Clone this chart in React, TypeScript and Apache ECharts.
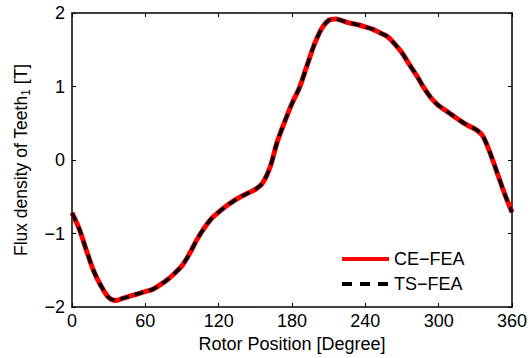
import React, { useEffect, useRef } from "react";
import * as echarts from "echarts";

const rotorDeg = [
  0, 6, 12, 18, 24, 30, 36, 42, 48, 54, 60, 66, 72, 78, 84, 90, 96, 102, 108, 114,
  120, 126, 132, 138, 144, 150, 156, 162, 168, 174, 180, 186, 192, 198, 204, 210,
  216, 222, 228, 234, 240, 246, 252, 258, 264, 270, 276, 282, 288, 294, 300, 306,
  312, 318, 324, 330, 336, 342, 348, 354, 360,
];
const ceFea = [
  -0.72, -0.94, -1.24, -1.52, -1.72, -1.87, -1.91, -1.88, -1.85, -1.82, -1.79, -1.76,
  -1.7, -1.63, -1.54, -1.44, -1.28, -1.09, -0.93, -0.8, -0.71, -0.63, -0.56, -0.5,
  -0.45, -0.4, -0.31, -0.1, 0.25, 0.52, 0.77, 0.98, 1.27, 1.56, 1.78, 1.9, 1.92, 1.89,
  1.86, 1.84, 1.81, 1.78, 1.73, 1.68, 1.58, 1.46, 1.3, 1.15, 0.98, 0.84, 0.74, 0.67,
  0.6, 0.53, 0.47, 0.42, 0.33, 0.1, -0.18, -0.46, -0.71,
];
const tsFea = [
  -0.72, -0.94, -1.24, -1.52, -1.72, -1.87, -1.91, -1.88, -1.85, -1.82, -1.79, -1.76,
  -1.7, -1.63, -1.54, -1.44, -1.28, -1.09, -0.93, -0.8, -0.71, -0.63, -0.56, -0.5,
  -0.45, -0.4, -0.31, -0.1, 0.25, 0.52, 0.77, 0.98, 1.27, 1.56, 1.78, 1.9, 1.92, 1.89,
  1.86, 1.84, 1.81, 1.78, 1.73, 1.68, 1.58, 1.46, 1.3, 1.15, 0.98, 0.84, 0.74, 0.67,
  0.6, 0.53, 0.47, 0.42, 0.33, 0.1, -0.18, -0.46, -0.71,
];
const seriesNames = ["CE\u2212FEA", "TS\u2212FEA"];

const FONT = "'Liberation Sans', Arial, Helvetica, sans-serif";

export default function App() {
  const ref = useRef<HTMLDivElement>(null);
  useEffect(() => {
    if (!ref.current) return;
    const chart = echarts.init(ref.current, undefined, { renderer: "svg" });
    const fmt = (v: number) => String(v).replace("-", "\u2212");
    const baseAxis = {
      axisLine: { show: true, onZero: false, lineStyle: { color: "#000", width: 1.5 } },
      axisTick: { show: true, inside: true, length: 4, lineStyle: { color: "#000", width: 1 } },
      splitLine: { show: false },
    };
    chart.setOption({
      animation: false,
      backgroundColor: "#fff",
      textStyle: { fontFamily: FONT },
      grid: { left: 72, right: 18, top: 13, bottom: 51, containLabel: false },
      xAxis: [
        {
          type: "value",
          min: 0,
          max: 360,
          interval: 60,
          position: "bottom",
          ...baseAxis,
          axisLabel: { color: "#000", fontSize: 18, margin: 5, fontFamily: FONT },
          name: "Rotor Position [Degree]",
          nameLocation: "middle",
          nameGap: 27,
          nameTextStyle: { color: "#000", fontSize: 18, fontFamily: FONT },
        },
        {
          type: "value",
          min: 0,
          max: 360,
          interval: 60,
          position: "top",
          ...baseAxis,
          axisLabel: { show: false },
        },
      ],
      yAxis: [
        {
          type: "value",
          min: -2,
          max: 2,
          interval: 1,
          position: "left",
          ...baseAxis,
          axisLabel: { color: "#000", fontSize: 18, margin: 7, fontFamily: FONT, formatter: fmt },
          name: "{a|Flux density of Teeth}{s|1}{a| [T]}",
          nameLocation: "middle",
          nameGap: 40,
          nameTextStyle: {
            color: "#000",
            fontFamily: FONT,
            rich: {
              a: { fontSize: 17.5, color: "#000", fontFamily: FONT, lineHeight: 22, verticalAlign: "middle" },
              s: { fontSize: 12, color: "#000", fontFamily: FONT, lineHeight: 22, verticalAlign: "bottom", padding: [10, 0, 0, 0] },
            },
          },
        },
        {
          type: "value",
          min: -2,
          max: 2,
          interval: 1,
          position: "right",
          ...baseAxis,
          axisLabel: { show: false },
        },
      ],
      legend: {
        orient: "vertical",
        left: 337,
        top: 245,
        itemWidth: 46,
        itemHeight: 14,
        itemGap: 7,
        itemStyle: { opacity: 0 },
        lineStyle: { opacity: 0 },
        textStyle: { color: "#000", fontSize: 18, fontFamily: FONT },
        data: seriesNames,
      },
      graphic: [
        {
          type: "line",
          silent: true,
          shape: { x1: 342, y1: 259, x2: 389, y2: 259 },
          style: { stroke: "#ff0000", lineWidth: 4 },
        },
        {
          type: "line",
          silent: true,
          shape: { x1: 342, y1: 284, x2: 389, y2: 284 },
          style: { stroke: "#000", lineWidth: 4, lineDash: [10, 8] },
        },
      ],
      series: [
        {
          name: seriesNames[0],
          type: "line",
          xAxisIndex: 0,
          yAxisIndex: 0,
          symbol: "none",
          smooth: 0.3,
          lineStyle: { color: "#ff0000", width: 5 },
          itemStyle: { color: "#ff0000" },
          data: rotorDeg.map((x, i) => [x, ceFea[i]]),
        },
        {
          name: seriesNames[1],
          type: "line",
          xAxisIndex: 0,
          yAxisIndex: 0,
          symbol: "none",
          smooth: 0.3,
          lineStyle: { color: "#000", width: 3.5, type: [9, 6] },
          itemStyle: { color: "#000" },
          data: rotorDeg.map((x, i) => [x, tsFea[i]]),
        },
      ],
    });
    return () => chart.dispose();
  }, []);
  return <div ref={ref} style={{ width: 530, height: 358, position: "absolute", left: 0, top: 0 }} />;
}
